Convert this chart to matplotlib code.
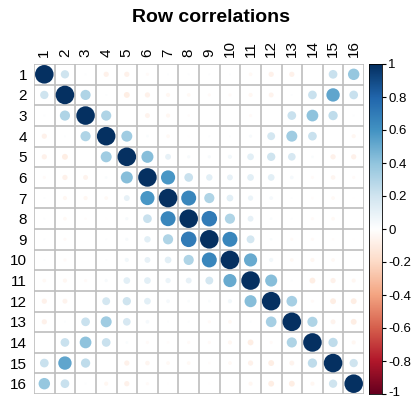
import numpy as np
import matplotlib
matplotlib.use("Agg")
import matplotlib.pyplot as plt
import matplotlib.transforms as mtransforms
from matplotlib.colors import LinearSegmentedColormap
from matplotlib.patches import Circle

plt.rcParams["font.family"] = ["Liberation Sans", "DejaVu Sans"]

labels = [str(i) for i in range(1, 17)]

# upper triangle of the correlation matrix (row i, columns i+1..16)
upper = [
    [0.20, 0.01, -0.08, -0.08, -0.03, 0.01, 0.01, 0.01, 0.01, -0.04, -0.08, -0.08, 0.00, 0.22, 0.38],
    [0.30, 0.01, -0.10, -0.08, -0.05, -0.04, -0.03, -0.03, -0.05, -0.07, 0.01, 0.22, 0.52, 0.22],
    [0.30, 0.00, -0.07, -0.05, -0.02, 0.00, 0.00, -0.03, 0.00, 0.22, 0.40, 0.25, 0.01],
    [0.35, 0.02, -0.04, -0.01, 0.01, 0.01, 0.03, 0.18, 0.35, 0.22, 0.00, -0.05],
    [0.42, 0.10, 0.03, 0.03, 0.05, 0.13, 0.20, 0.17, 0.02, -0.08, -0.08],
    [0.58, 0.22, 0.12, 0.10, 0.13, 0.13, 0.04, -0.03, -0.06, -0.03],
    [0.65, 0.30, 0.13, 0.08, 0.04, 0.01, -0.02, -0.04, -0.01],
    [0.70, 0.30, 0.10, 0.02, 0.01, -0.03, -0.04, 0.00],
    [0.65, 0.18, 0.02, -0.03, -0.03, -0.02, -0.01],
    [0.50, 0.05, -0.04, -0.05, -0.04, 0.00],
    [0.42, 0.01, -0.10, -0.08, -0.05],
    [0.33, -0.03, -0.10, -0.10],
    [0.30, -0.07, -0.10],
    [0.25, -0.05],
    [0.20],
]

legend_ticks = [-1, -0.8, -0.6, -0.4, -0.2, 0, 0.2, 0.4, 0.6, 0.8, 1]
legend_labels = ["-1", "-0.8", "-0.6", "-0.4", "-0.2", "0", "0.2", "0.4", "0.6", "0.8", "1"]

n = len(labels)
corr = np.eye(n)
for i, row in enumerate(upper):
    for k, v in enumerate(row):
        j = i + 1 + k
        corr[i, j] = v
        corr[j, i] = v

# corrplot's RdBu ramp
cmap = LinearSegmentedColormap.from_list(
    "rdbu_corr",
    ["#67001F", "#B2182B", "#D6604D", "#F4A582", "#FDDBC7", "#FFFFFF",
     "#D1E5F0", "#92C5DE", "#4393C3", "#2166AC", "#053061"], N=200)

fig = plt.figure(figsize=(4.11, 3.99), dpi=100)
W, H = 411, 399
ax = fig.add_axes([34 / W, (H - 394) / H, 330 / W, 330 / H])
ax.set_xlim(0, n)
ax.set_ylim(n, 0)

for i in range(n):
    for j in range(n):
        r = corr[i, j]
        ax.add_patch(Circle((j + 0.5, i + 0.5), 0.45 * np.sqrt(abs(r)),
                            facecolor=cmap((r + 1) / 2), edgecolor="none", zorder=2))

# grid
for k in range(n + 1):
    ax.axhline(k, color="#BEBEBE", lw=1.2, zorder=1)
    ax.axvline(k, color="#BEBEBE", lw=1.2, zorder=1)
for s in ax.spines.values():
    s.set_visible(False)

ax.set_xticks(np.arange(n) + 0.5)
ax.set_yticks(np.arange(n) + 0.5)
ax.set_xticklabels(labels, rotation=90, fontsize=11)
ax.set_yticklabels(labels, fontsize=11)
ax.xaxis.tick_top()
ax.tick_params(length=0, pad=5)

fig.text(211 / W, 1 - 17 / H, "Row correlations", fontsize=14, fontweight="bold",
         ha="center", va="center")

# colour legend
cax = fig.add_axes([369 / W, (H - 394) / H, 13 / W, 330 / H])
grad = np.linspace(-1, 1, 200).reshape(-1, 1)
cax.imshow(grad, cmap=cmap, aspect="auto", origin="lower", extent=[0, 1, -1, 1])
cax.set_xticks([])
cax.yaxis.tick_right()
cax.set_yticks(legend_ticks)
cax.set_yticklabels(legend_labels, fontsize=9.5)
cax.tick_params(axis="y", length=3, width=0.8, pad=1.5)
for s in cax.spines.values():
    s.set_linewidth(0.6)

# keep the bottom label inside the figure
low = cax.get_yticklabels()[0]
low.set_transform(low.get_transform() + mtransforms.ScaledTranslation(0, 2.5 / 100, fig.dpi_scale_trans))

fig.savefig("out.png", dpi=100)
